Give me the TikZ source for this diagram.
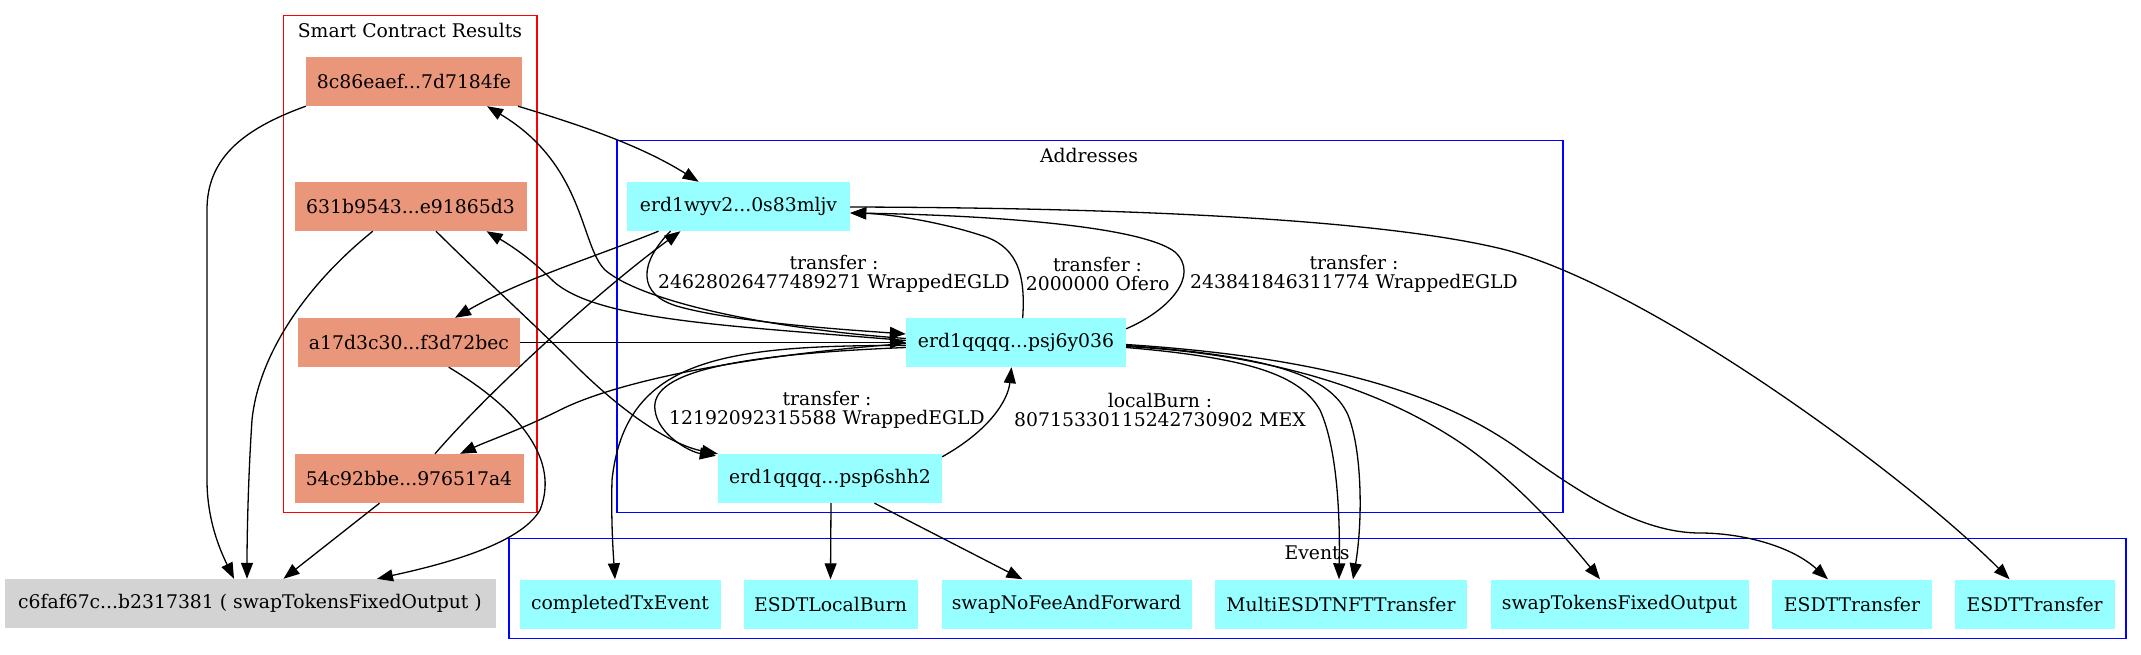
\documentclass[tikz,border=0pt]{standalone}
\usepackage{fontspec}
\setmainfont{DejaVu Serif}
\usetikzlibrary{arrows.meta,calc}
\definecolor{salmonfill}{HTML}{E9967A}
\definecolor{aquafill}{HTML}{97FFFF}
\definecolor{grayfill}{HTML}{D3D3D3}
\begin{document}
\begin{tikzpicture}[x=1pt,y=-1pt,
  every node/.style={font=\fontsize{18.8}{19.5}\selectfont},
  box/.style={rectangle,inner sep=0pt,minimum height=49pt,anchor=center},
  scr/.style={box,fill=salmonfill},
  addr/.style={box,fill=aquafill},
  txn/.style={box,fill=grayfill},
  clusR/.style={draw=red,line width=1.2pt},
  clusB/.style={draw=blue,line width=1.2pt},
  edge/.style={draw=black,line width=1.3pt,-{Triangle[length=16pt,width=12pt]}},
  lbl/.style={align=center,inner sep=0pt},
]
\useasboundingbox (0,0) rectangle (2141,655);

% clusters
\draw[clusR] (283.5,15.3) rectangle (537,512.7);
\draw[clusB] (617,140.7) rectangle (1563,512.7);
\draw[clusB] (509,538.5) rectangle (2126,638.7);
\node[lbl] (tscr) at (410,30) {Smart Contract Results};
\node[lbl] (taddr) at (1089,155.7) {Addresses};
\node[lbl] (tev) at (1317,553) {Events};

% nodes
\node[scr,minimum width=216pt] (s1) at (414,81.5) {8c86eaef...7d7184fe};
\node[scr,minimum width=232pt] (s2) at (410.5,206.5) {631b9543...e91865d3};
\node[scr,minimum width=222pt] (s3) at (409,342.5) {a17d3c30...f3d72bec};
\node[scr,minimum width=229pt] (s4) at (409,478.5) {54c92bbe...976517a4};
\node[txn,minimum width=491pt] (tx) at (250,603.5) {c6faf67c...b2317381 ( swapTokensFixedOutput )};

\node[addr,minimum width=223pt] (wyv) at (738.5,206.5) {erd1wyv2...0s83mljv};
\node[addr,minimum width=220pt] (psj) at (1016,342.5) {erd1qqqq...psj6y036};
\node[addr,minimum width=224pt] (psp) at (830,478.5) {erd1qqqq...psp6shh2};

\node[addr,minimum width=201pt] (ev1) at (620,604) {completedTxEvent};
\node[addr,minimum width=174pt] (ev2) at (830.5,604) {ESDTLocalBurn};
\node[addr,minimum width=250pt] (ev3) at (1066.5,604) {swapNoFeeAndForward};
\node[addr,minimum width=252pt] (ev4) at (1341,604) {MultiESDTNFTTransfer};
\node[addr,minimum width=258pt] (ev5) at (1619.5,604) {swapTokensFixedOutput};
\node[addr,minimum width=160pt] (ev6) at (1852,604) {ESDTTransfer};
\node[addr,minimum width=160pt] (ev7) at (2034.6,604) {ESDTTransfer};

% edge labels
\node[lbl] (l1) at (834,274) {transfer :\\24628026477489271 WrappedEGLD};
\node[lbl] (l2) at (1097.6,274) {transfer :\\2000000 Ofero};
\node[lbl] (l3) at (1354,274) {transfer :\\243841846311774 WrappedEGLD};
\node[lbl] (l4) at (827,410) {transfer :\\12192092315588 WrappedEGLD};
\node[lbl] (l5) at (1160,410) {localBurn :\\80715330115242730902 MEX};

% edges into the transaction node
\draw[edge] (s1.south west) .. controls (240,130) and (207,160) .. (207,210) -- (207,480) .. controls (207,520) and (220,550) .. ($(tx.north)+(-16,0)$);
\draw[edge] ($(s2.south)+(-37.7,0)$) .. controls (300,290) and (258,360) .. (252,420) .. controls (248,480) and (247,540) .. ($(tx.north)+(-3,0)$);
\draw[edge] ($(s3.south)+(39.7,0)$) .. controls (520,410) and (560,460) .. (540,510) .. controls (520,545) and (440,565) .. ($(tx.north)+(127,0)$);
\draw[edge] ($(s4.south)+(-29.5,0)$) -- ($(tx.north)+(33.5,0)$);

% SCR edges
\draw[edge] ($(s1.south)+(104,0)$) .. controls (580,125) and (640,145) .. ($(wyv.north)+(-39.8,0)$);
\draw[edge] ($(psj.west)+(0,-4)$) .. controls (760,328) and (640,300) .. (605,270) .. controls (580,245) and (585,165) .. ($(s1.south)+(73,0)$);
\draw[edge] ($(psj.west)+(0,-2)$) .. controls (720,325) and (590,320) .. (550,278) .. controls (530,258) and (510,245) .. ($(s2.south)+(76,0)$);
\draw[edge] ($(wyv.south)+(-80,0)$) .. controls (600,255) and (520,280) .. ($(s3.north)+(46,0)$);
\draw[edge] (s3.east) -- (psj.west);
\draw[edge] ($(psj.west)+(0,1)$) .. controls (750,355) and (620,380) .. (560,410) .. controls (520,430) and (490,440) .. ($(s4.north)+(51,0)$);
\draw[edge] ($(s4.north)+(26,0)$) .. controls (490,390) and (600,290) .. ($(wyv.south)+(-58,0)$);
\draw[edge] ($(s2.south)+(25.5,0)$) .. controls (480,275) and (530,320) .. (575,365) .. controls (620,410) and (670,445) .. (psp.north west);

% address edges
\draw[edge] ($(wyv.south)+(-68,0)$) .. controls (640,262) and (635,295) .. (680,307) .. controls (740,323) and (850,330) .. ($(psj.west)+(0,-8.5)$);
\draw[edge] ($(psj.west)+(0,5)$) .. controls (720,355) and (650,375) .. (655,410) .. controls (658,435) and (690,452) .. ($(psp.north west)+(-2,2)$);
\draw[edge] ($(psj.north)+(6.7,0)$) .. controls (1026,270) and (1015,245) .. (980,235) .. controls (940,222) and (890,214) .. ($(wyv.east)+(0,6.5)$);
\draw[edge] ($(psj.north east)+(0,11)$) .. controls (1170,310) and (1200,275) .. (1175,252) .. controls (1140,225) and (980,215) .. ($(wyv.east)+(0,6.5)$);
\draw[edge] ($(psp.north east)+(0,3)$) .. controls (990,430) and (1008,400) .. ($(psj.south)+(-4.5,0)$);

% event edges
\draw[edge] ($(psp.south)+(1,0)$) -- (ev2.north);
\draw[edge] ($(psp.south)+(44.5,0)$) -- ($(ev3.north)+(-44,0)$);
\draw[edge] ($(psj.west)+(0,3)$) .. controls (720,345) and (625,360) .. (612,480) .. controls (611,520) and (613,550) .. ($(ev1.north)+(-5,0)$);
\draw[edge] ($(psj.east)+(0,5)$) .. controls (1250,358) and (1300,375) .. (1320,410) .. controls (1338,450) and (1340,520) .. ($(ev4.north)+(-2,0)$);
\draw[edge] ($(psj.east)+(0,3)$) .. controls (1270,356) and (1330,375) .. (1348,415) .. controls (1362,450) and (1363,520) .. ($(ev4.north)+(12,0)$);
\draw[edge] ($(psj.east)+(0,4)$) .. controls (1280,355) and (1380,392) .. (1450,436) .. controls (1505,470) and (1560,530) .. ($(ev5.north)+(-19.5,0)$);
\draw[edge] ($(psj.east)+(0,2)$) .. controls (1300,356) and (1430,385) .. (1520,450) .. controls (1580,493) and (1640,533) .. (1700,533) .. controls (1740,533) and (1790,545) .. ($(ev6.north)+(-24,0)$);
\draw[edge] ($(wyv.east)+(0,0.5)$) .. controls (1200,208) and (1400,225) .. (1498,248) .. controls (1640,281) and (1900,470) .. ($(ev7.north)+(-25,0)$);
\end{tikzpicture}
\end{document}
